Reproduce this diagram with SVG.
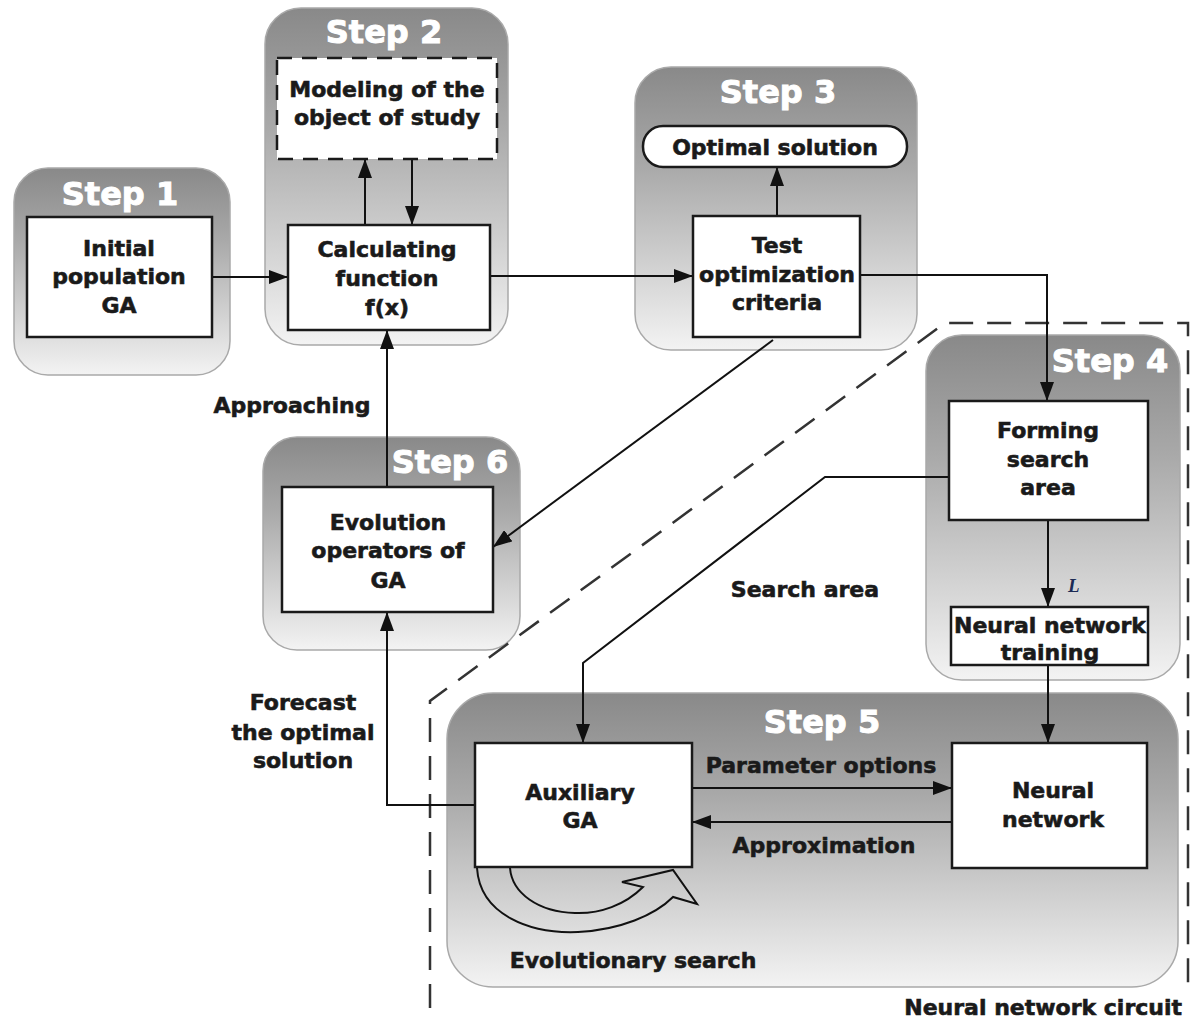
<svg xmlns="http://www.w3.org/2000/svg" width="1192" height="1030" viewBox="0 0 1192 1030">
<defs>
<linearGradient id="pg" x1="0" y1="0" x2="0" y2="1">
<stop offset="0" stop-color="#898989"/>
<stop offset="0.35" stop-color="#a9a9a9"/>
<stop offset="1" stop-color="#f3f3f3"/>
</linearGradient>
<marker id="ah" markerUnits="userSpaceOnUse" markerWidth="19" markerHeight="14" refX="19" refY="7" orient="auto">
<path d="M0,0 L19,7 L0,14 z" fill="#111"/>
</marker>
</defs>
<style>
.panel{fill:url(#pg);stroke:#a9a9a9;stroke-width:1.5}
.box{fill:#fff;stroke:#1a1a1a;stroke-width:2.5}
.dbox{fill:#fff;stroke:#1a1a1a;stroke-width:2.5;stroke-dasharray:15 10}
.step{font-family:"DejaVu Sans",sans-serif;font-weight:bold;font-size:32px;fill:#fff;stroke:#fff;stroke-width:1;text-anchor:middle}
.t{font-family:"DejaVu Sans",sans-serif;font-weight:bold;font-size:22px;fill:#1a1a1a;stroke:#1a1a1a;stroke-width:0.6;text-anchor:middle}
.ca{fill:none;stroke:#111;stroke-width:2;marker-end:url(#ah)}
.bound{fill:none;stroke:#333;stroke-width:2.5;stroke-dasharray:24 14}
</style>
<rect width="1192" height="1030" fill="#fff"/>

<g id="panels">
<rect id="step1-panel" class="panel" x="14" y="168" width="216" height="207" rx="34"/>
<rect id="step2-panel" class="panel" x="265" y="8" width="243" height="337" rx="36"/>
<rect id="step3-panel" class="panel" x="635" y="67" width="282" height="283" rx="36"/>
<rect id="step4-panel" class="panel" x="926" y="335" width="254" height="345" rx="36"/>
<rect id="step5-panel" class="panel" x="447" y="693" width="731" height="294" rx="46"/>
<rect id="step6-panel" class="panel" x="263" y="437" width="257" height="213" rx="34"/>
<text class="step" x="120" y="205">Step 1</text>
<text class="step" x="384" y="43">Step 2</text>
<text class="step" x="778" y="103">Step 3</text>
<text class="step" x="1110" y="372">Step 4</text>
<text class="step" x="822" y="733">Step 5</text>
<text class="step" x="450" y="473">Step 6</text>
</g>

<path id="boundary" class="bound" d="M430,1008 V701 L945,323 H1188 V995"/>

<g id="connectors">
<path class="ca" d="M212,277 H288"/>
<path class="ca" d="M365,225 V159"/>
<path class="ca" d="M412,159 V225"/>
<path class="ca" d="M490,276 H693"/>
<path class="ca" d="M777,216 V167"/>
<path class="ca" d="M860,275 H1047 V401"/>
<path class="ca" d="M387,487 V330"/>
<path class="ca" d="M475,805 H387 V612"/>
<path class="ca" d="M773,340 L493,547"/>
<path class="ca" d="M949,477 H825 L583,663 V743"/>
<path class="ca" d="M1048,520 V607"/>
<path class="ca" d="M1048,665 V743"/>
<path class="ca" d="M692,788 H952"/>
<path class="ca" d="M952,822 H692"/>
<path id="evo-loop" fill="none" stroke="#111" stroke-width="2" d="M477,868 C480,915 530,934 578,932 C620,930 655,915 673,897 L697,904 L673,870 L622,882 L643,887 C625,905 600,914 575,913 C538,912 512,893 510,868"/>
</g>

<g id="labels">
<text class="t" x="292" y="413">Approaching</text>
<text class="t" x="303" y="710">Forecast</text>
<text class="t" x="303" y="740">the optimal</text>
<text class="t" x="303" y="768">solution</text>
<text class="t" x="805" y="597">Search area</text>
<text class="t" x="821" y="773">Parameter options</text>
<text class="t" x="824" y="853">Approximation</text>
<text class="t" x="633" y="968">Evolutionary search</text>
<text class="t" x="1182" y="1015" style="text-anchor:end">Neural network circuit</text>
<text x="1068" y="592" style="font-family:'Liberation Serif',serif;font-style:italic;font-weight:bold;font-size:19px;fill:#1c2b55">L</text>
</g>

<g id="node-initial">
<rect class="box" x="27" y="217" width="185" height="120"/>
<text class="t" x="119" y="256">Initial</text>
<text class="t" x="119" y="284">population</text>
<text class="t" x="119" y="313">GA</text>
</g>
<g id="node-modeling">
<rect class="dbox" x="277" y="58" width="220" height="101"/>
<text class="t" x="387" y="97">Modeling of the</text>
<text class="t" x="387" y="125">object of study</text>
</g>
<g id="node-calc">
<rect class="box" x="288" y="225" width="202" height="105"/>
<text class="t" x="387" y="257">Calculating</text>
<text class="t" x="387" y="286">function</text>
<text class="t" x="387" y="315">f(x)</text>
</g>
<g id="node-optimal">
<rect class="box" x="643" y="126" width="264" height="41" rx="20"/>
<text class="t" x="775" y="155">Optimal solution</text>
</g>
<g id="node-test">
<rect class="box" x="693" y="216" width="167" height="121"/>
<text class="t" x="777" y="253">Test</text>
<text class="t" x="777" y="282">optimization</text>
<text class="t" x="777" y="310">criteria</text>
</g>
<g id="node-forming">
<rect class="box" x="949" y="401" width="199" height="119"/>
<text class="t" x="1048" y="438">Forming</text>
<text class="t" x="1048" y="467">search</text>
<text class="t" x="1048" y="495">area</text>
</g>
<g id="node-nntraining">
<rect class="box" x="951" y="607" width="197" height="58"/>
<text class="t" x="1050" y="633">Neural network</text>
<text class="t" x="1050" y="660">training</text>
</g>
<g id="node-evolution">
<rect class="box" x="282" y="487" width="211" height="125"/>
<text class="t" x="388" y="530">Evolution</text>
<text class="t" x="388" y="558">operators of</text>
<text class="t" x="388" y="588">GA</text>
</g>
<g id="node-auxiliary">
<rect class="box" x="475" y="743" width="217" height="124"/>
<text class="t" x="580" y="800">Auxiliary</text>
<text class="t" x="580" y="828">GA</text>
</g>
<g id="node-neural">
<rect class="box" x="952" y="743" width="195" height="125"/>
<text class="t" x="1053" y="798">Neural</text>
<text class="t" x="1053" y="827">network</text>
</g>
</svg>
